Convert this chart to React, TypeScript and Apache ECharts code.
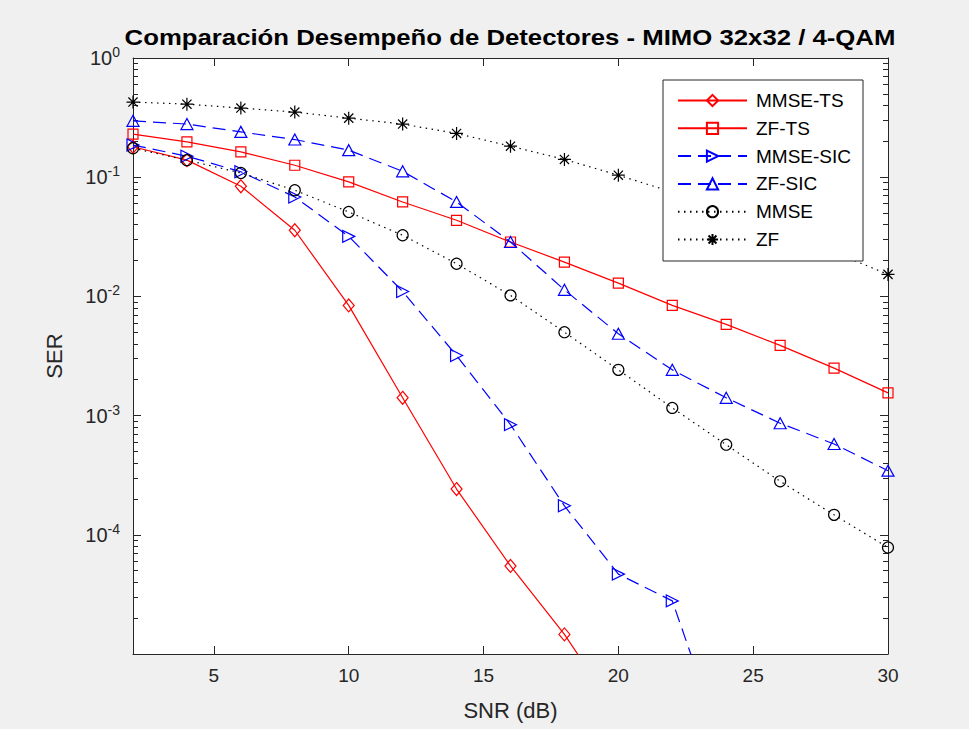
import React, { useEffect, useRef } from "react";
import * as echarts from "echarts";

// ---- data ----
const snrDb = [2, 4, 6, 8, 10, 12, 14, 16, 18, 20, 22, 24, 26, 28, 30];

const serMmseTs = [0.18, 0.139, 0.084, 0.0359, 0.0084, 0.00141, 0.000242, 0.0000548, 0.0000146, 0.0000031, null, null, null, null, null];
const serZfTs = [0.2298, 0.198, 0.163, 0.126, 0.0914, 0.062, 0.0435, 0.0286, 0.0194, 0.01293, 0.0084, 0.00582, 0.00388, 0.0025, 0.00155];
const serMmseSic = [0.186, 0.15, 0.111, 0.0683, 0.0319, 0.011, 0.00319, 0.00084, 0.000175, 0.0000468, 0.0000279, 0.0000014, null, null, null];
const serZfSic = [0.297, 0.279, 0.24, 0.207, 0.1686, 0.112, 0.062, 0.0286, 0.01135, 0.00486, 0.00242, 0.00141, 0.000863, 0.000578, 0.000345];
const serMmse = [0.175, 0.139, 0.1086, 0.0778, 0.0511, 0.0326, 0.0188, 0.0102, 0.00501, 0.00242, 0.00116, 0.00057, 0.000281, 0.000147, 0.0000782];
const serZf = [0.427, 0.41, 0.38, 0.352, 0.313, 0.279, 0.233, 0.182, 0.141, 0.104, 0.075, 0.054, 0.036, 0.0235, 0.0153];

const xTickValues = [5, 10, 15, 20, 25, 30];
const yDecadeExponents = [-5, -4, -3, -2, -1, 0];
const yMinorMultipliers = [2, 3, 4, 5, 6, 7, 8, 9];

const titleText = "Comparación Desempeño de Detectores - MIMO 32x32 / 4-QAM";
const xName = "SNR (dB)";
const yName = "SER";

const FONT = "'Liberation Sans', Arial, Helvetica, sans-serif";
const AX = "#262626";

const ASTERISK = "path://M0,-10 L0,10 M-10,0 L10,0 M-7.07,-7.07 L7.07,7.07 M-7.07,7.07 L7.07,-7.07";

function pairs(vals: (number | null)[]) {
  const out: [number, number][] = [];
  vals.forEach((v, i) => {
    if (v != null) out.push([snrDb[i], v]);
  });
  return out;
}

export default function App() {
  const ref = useRef<HTMLDivElement>(null);
  useEffect(() => {
    if (!ref.current) return;
    const chart = echarts.init(ref.current, null, { renderer: "svg" });

    const minorTickPos: number[] = [];
    yDecadeExponents.slice(0, -1).forEach((e) => {
      yMinorMultipliers.forEach((m) => minorTickPos.push(Math.log10(m) + e));
    });

    const lw = 1.2;
    const mk = (
      name: string,
      vals: (number | null)[],
      color: string,
      type: any,
      symbol: string,
      symbolSize: any,
      rotate = 0
    ) => ({
      name,
      type: "line",
      xAxisIndex: 0,
      yAxisIndex: 0,
      data: pairs(vals),
      symbol,
      symbolSize,
      symbolRotate: rotate,
      showAllSymbol: true,
      clip: true,
      lineStyle: { color, width: lw, type },
      itemStyle: { color: "rgba(0,0,0,0)", borderColor: color, borderWidth: lw },
      emphasis: { disabled: true },
      z: 3,
    });

    const decorY = (position: string, ticks: any, len: number, line: boolean) => ({
      type: "value",
      min: yDecadeExponents[0],
      max: yDecadeExponents[yDecadeExponents.length - 1],
      interval: 1,
      position,
      axisLine: { show: line, onZero: false, lineStyle: { color: AX, width: 1 } },
      axisTick: { show: true, inside: true, length: len, lineStyle: { color: AX, width: 1 }, ...(ticks ? { customValues: ticks } : {}) },
      axisLabel: { show: false },
      splitLine: { show: false },
    });

    chart.setOption({
      animation: false,
      backgroundColor: "#f0f0f0",
      textStyle: { fontFamily: FONT },
      grid: { left: 133, right: 81, top: 58, bottom: 75, show: true, backgroundColor: "#ffffff", borderWidth: 0 },
      graphic: [
        {
          type: "text",
          x: 510,
          y: 37,
          scaleX: 1.17,
          style: {
            text: titleText,
            x: 0,
            y: 0,
            fontSize: 22,
            fontWeight: "bold",
            fontFamily: FONT,
            fill: "#000",
            align: "center",
            verticalAlign: "middle",
          },
        },
      ],
      legend: {
        orient: "vertical",
        left: 663,
        top: 80,
        padding: [11, 12, 12, 14],
        itemWidth: 69,
        itemHeight: 14,
        itemGap: 8.8,
        backgroundColor: "#ffffff",
        borderColor: AX,
        borderWidth: 1,
        borderRadius: 0,
        z: 10,
        textStyle: { fontSize: 19, color: "#000", fontFamily: FONT, padding: [0, 0, 0, 4] },
        data: ["MMSE-TS", "ZF-TS", "MMSE-SIC", "ZF-SIC", "MMSE", "ZF"],
      },
      xAxis: [
        {
          type: "value",
          min: 2,
          max: 30,
          position: "bottom",
          name: xName,
          nameLocation: "middle",
          nameGap: 45,
          nameTextStyle: { fontSize: 22, color: AX, fontFamily: FONT },
          axisLine: { show: true, onZero: false, lineStyle: { color: AX, width: 1 } },
          axisTick: { show: true, inside: true, length: 8, customValues: xTickValues, lineStyle: { color: AX, width: 1 } },
          axisLabel: { show: true, customValues: xTickValues, fontSize: 19, color: AX, margin: 12, fontFamily: FONT },
          splitLine: { show: false },
        },
        {
          type: "value",
          min: 2,
          max: 30,
          position: "top",
          axisLine: { show: true, onZero: false, lineStyle: { color: AX, width: 1 } },
          axisTick: { show: true, inside: true, length: 8, customValues: xTickValues, lineStyle: { color: AX, width: 1 } },
          axisLabel: { show: false, customValues: xTickValues },
          splitLine: { show: false },
        },
      ],
      yAxis: [
        {
          type: "log",
          logBase: 10,
          min: 1e-5,
          max: 1,
          position: "left",
          name: yName,
          nameLocation: "middle",
          nameGap: 68,
          nameRotate: 90,
          nameTextStyle: { fontSize: 22, color: AX, fontFamily: FONT },
          axisLine: { show: true, onZero: false, lineStyle: { color: AX, width: 1 } },
          axisTick: { show: false },
          axisLabel: {
            show: true,
            showMinLabel: false,
            margin: 13,
            formatter: (v: number) => `{b|10}{s|${Math.round(Math.log10(v))}}`,
            rich: {
              b: { fontSize: 20, color: AX, fontFamily: FONT },
              s: { fontSize: 14, color: AX, fontFamily: FONT, padding: [0, 0, 12, 0] },
            },
          },
          splitLine: { show: false },
          minorTick: { show: false },
        },
        decorY("left", null, 8, false),
        decorY("left", minorTickPos, 5, false),
        decorY("right", null, 8, true),
        decorY("right", minorTickPos, 5, false),
      ],
      series: [
        mk("MMSE-TS", serMmseTs, "#ff0000", "solid", "diamond", [11, 13]),
        mk("ZF-TS", serZfTs, "#ff0000", "solid", "rect", 10),
        mk("MMSE-SIC", serMmseSic, "#0000ff", [13, 7], "triangle", [12, 12], -90),
        mk("ZF-SIC", serZfSic, "#0000ff", [13, 7], "triangle", [12, 11]),
        mk("MMSE", serMmse, "#000000", [1.5, 4.5], "circle", 11),
        mk("ZF", serZf, "#000000", [1.5, 4.5], ASTERISK, 13),
      ],
    });
    return () => chart.dispose();
  }, []);
  return <div ref={ref} style={{ width: 969, height: 729, position: "absolute", left: 0, top: 0 }} />;
}
